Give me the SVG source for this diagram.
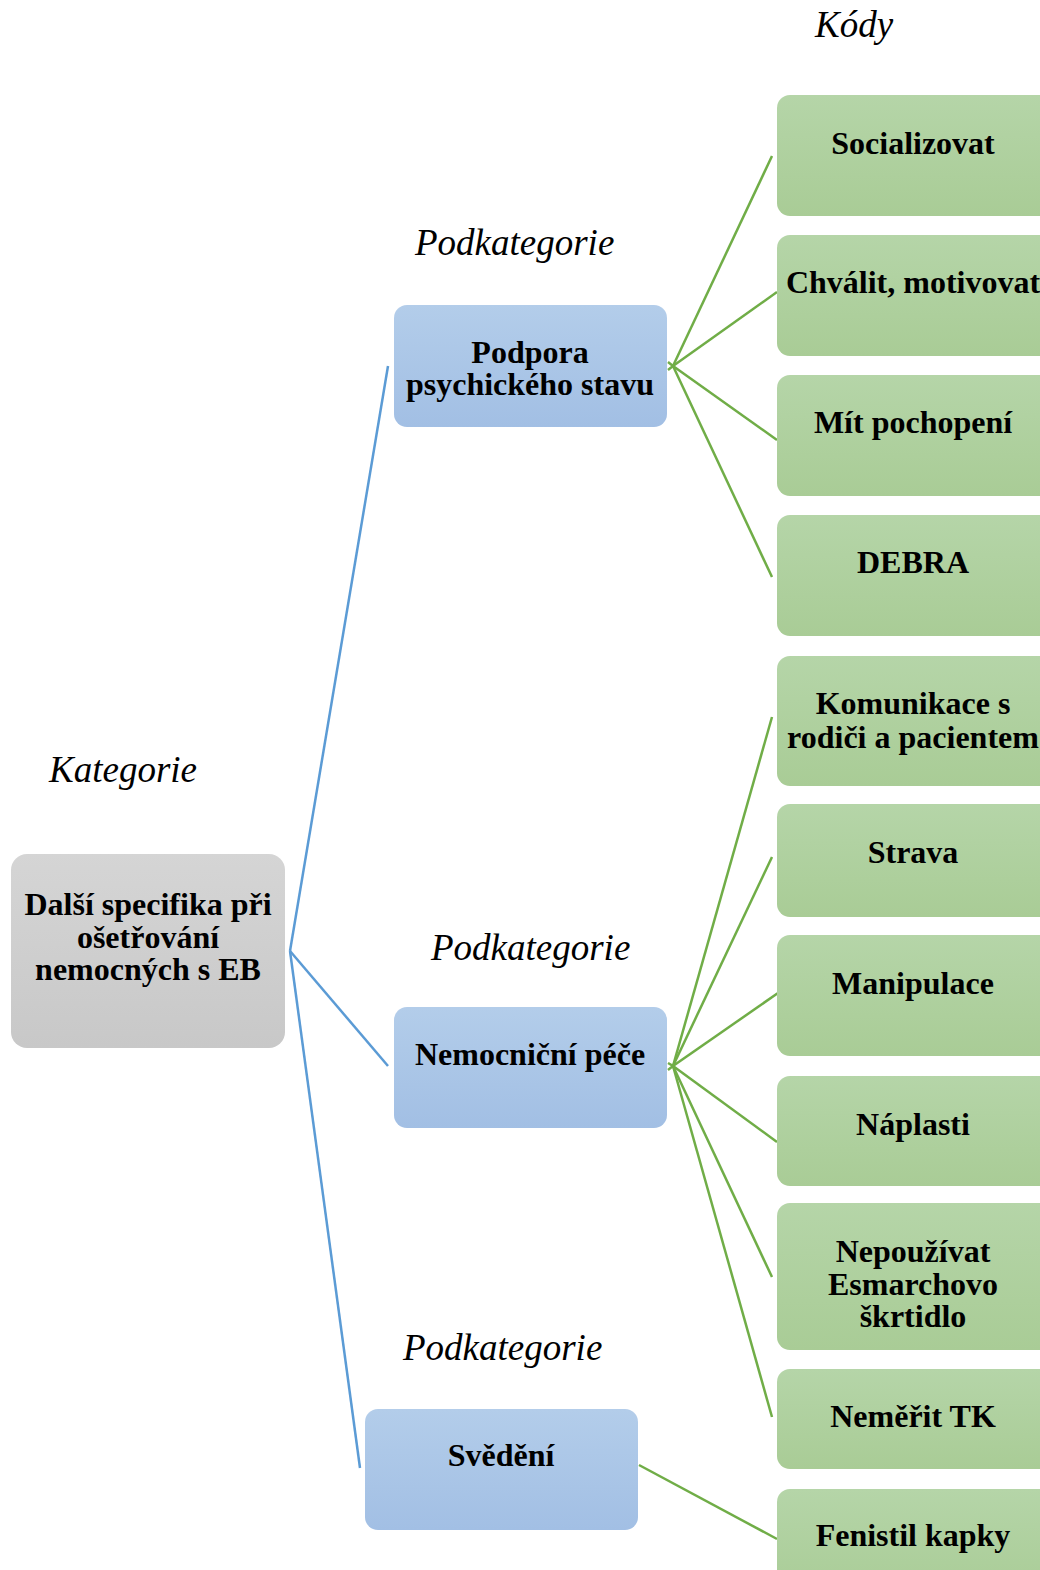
<svg xmlns="http://www.w3.org/2000/svg" width="1040" height="1570" viewBox="0 0 1040 1570">
<defs>
<linearGradient id="gGreen" x1="0" y1="0" x2="0" y2="1"><stop offset="0" stop-color="#b5d5a8"/><stop offset="1" stop-color="#a9cc96"/></linearGradient>
<linearGradient id="gBlue" x1="0" y1="0" x2="0" y2="1"><stop offset="0" stop-color="#b3cdea"/><stop offset="1" stop-color="#a2bfe4"/></linearGradient>
<linearGradient id="gGray" x1="0" y1="0" x2="0" y2="1"><stop offset="0" stop-color="#d5d5d5"/><stop offset="1" stop-color="#c8c8c8"/></linearGradient>
</defs>
<style>
.g{fill:url(#gGreen)}
.b{fill:url(#gBlue)}
.k{fill:url(#gGray)}
.t{font-family:"Liberation Serif","Times New Roman",serif;font-weight:bold;font-size:32px;fill:#000;text-anchor:middle}
.l{font-family:"Liberation Serif","Times New Roman",serif;font-style:italic;font-size:37px;fill:#000}
.cb{stroke:#5b9bd5;stroke-width:2.5;fill:none}
.cg{stroke:#70ad47;stroke-width:2.5;fill:none}
</style>
<rect width="1040" height="1570" fill="#fff"/>

<g id="labels">
<text class="l" x="815" y="37">Kódy</text>
<text class="l" x="415" y="255">Podkategorie</text>
<text class="l" x="49" y="782">Kategorie</text>
<text class="l" x="431" y="960">Podkategorie</text>
<text class="l" x="403" y="1360">Podkategorie</text>
</g>

<g id="connectors">
<line class="cb" x1="290" y1="951" x2="388" y2="366"/>
<line class="cb" x1="290" y1="951" x2="388" y2="1066"/>
<line class="cb" x1="290" y1="951" x2="360" y2="1468"/>
<polyline class="cg" points="668,362 673,366 668,370"/>
<line class="cg" x1="673" y1="366" x2="772" y2="156"/>
<line class="cg" x1="673" y1="366" x2="777" y2="292"/>
<line class="cg" x1="673" y1="366" x2="777" y2="440"/>
<line class="cg" x1="673" y1="366" x2="772" y2="577"/>
<polyline class="cg" points="668,1063 673,1066 668,1070"/>
<line class="cg" x1="673" y1="1066" x2="772" y2="717"/>
<line class="cg" x1="673" y1="1066" x2="772" y2="857"/>
<line class="cg" x1="673" y1="1066" x2="778" y2="993"/>
<line class="cg" x1="673" y1="1066" x2="777" y2="1142"/>
<line class="cg" x1="673" y1="1066" x2="772" y2="1277"/>
<line class="cg" x1="673" y1="1066" x2="772" y2="1417"/>
<line class="cg" x1="639" y1="1465" x2="777" y2="1539"/>
</g>

<g id="n-kategorie">
<rect class="k" x="11" y="854" width="274" height="194" rx="16"/>
<text class="t" x="148" y="915">Další specifika při</text>
<text class="t" x="148" y="948">ošetřování</text>
<text class="t" x="148" y="980">nemocných s EB</text>
</g>

<g id="n-podpora">
<rect class="b" x="394" y="305" width="273" height="122" rx="13"/>
<text class="t" x="530" y="363">Podpora</text>
<text class="t" x="530" y="395">psychického stavu</text>
</g>
<g id="n-nemocnicni">
<rect class="b" x="394" y="1007" width="273" height="121" rx="13"/>
<text class="t" x="530" y="1065">Nemocniční péče</text>
</g>
<g id="n-svedeni">
<rect class="b" x="365" y="1409" width="273" height="121" rx="13"/>
<text class="t" x="501" y="1466">Svědění</text>
</g>

<g id="c-socializovat">
<rect class="g" x="777" y="95" width="275" height="121" rx="13"/>
<text class="t" x="913" y="154">Socializovat</text>
</g>
<g id="c-chvalit">
<rect class="g" x="777" y="235" width="275" height="121" rx="13"/>
<text class="t" x="913" y="293">Chválit, motivovat</text>
</g>
<g id="c-pochopeni">
<rect class="g" x="777" y="375" width="275" height="121" rx="13"/>
<text class="t" x="913" y="433">Mít pochopení</text>
</g>
<g id="c-debra">
<rect class="g" x="777" y="515" width="275" height="121" rx="13"/>
<text class="t" x="913" y="573">DEBRA</text>
</g>
<g id="c-komunikace">
<rect class="g" x="777" y="656" width="275" height="130" rx="13"/>
<text class="t" x="913" y="714">Komunikace s</text>
<text class="t" x="913" y="748">rodiči a pacientem</text>
</g>
<g id="c-strava">
<rect class="g" x="777" y="804" width="275" height="113" rx="13"/>
<text class="t" x="913" y="863">Strava</text>
</g>
<g id="c-manipulace">
<rect class="g" x="777" y="935" width="275" height="121" rx="13"/>
<text class="t" x="913" y="994">Manipulace</text>
</g>
<g id="c-naplasti">
<rect class="g" x="777" y="1076" width="275" height="110" rx="13"/>
<text class="t" x="913" y="1135">Náplasti</text>
</g>
<g id="c-nepouzivat">
<rect class="g" x="777" y="1203" width="275" height="147" rx="13"/>
<text class="t" x="913" y="1262">Nepoužívat</text>
<text class="t" x="913" y="1295">Esmarchovo</text>
<text class="t" x="913" y="1327">škrtidlo</text>
</g>
<g id="c-nemerit">
<rect class="g" x="777" y="1369" width="275" height="100" rx="13"/>
<text class="t" x="913" y="1427">Neměřit TK</text>
</g>
<g id="c-fenistil">
<rect class="g" x="777" y="1489" width="275" height="110" rx="13"/>
<text class="t" x="913" y="1546">Fenistil kapky</text>
</g>
</svg>
